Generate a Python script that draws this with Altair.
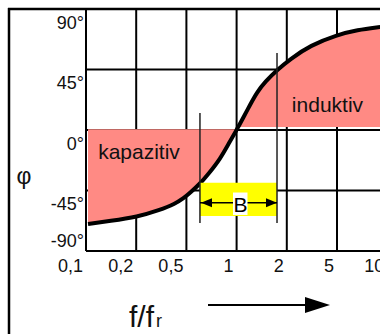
import altair as alt
import pandas as pd

# frequency ratio f/fr on an evenly spaced 1-2-5 grid
ratio_pos = [0, 1, 2, 3, 4, 5, 6]
ratio_labels = ["0,1", "0,2", "0,5", "1", "2", "5", "10"]

# phase angle ticks in degrees
phase_ticks = [90, 45, 0, -45, -90]
phase_labels = ["90°", "45°", "0°", "-45°", "-90°"]

# phase response of the resonant circuit (grid position, degrees)
curve_pos = [0.04, 0.48, 1.02, 1.47, 1.77, 1.95, 2.07, 2.27, 2.43, 2.67, 2.87,
             3.0, 3.13, 3.27, 3.41, 3.57, 3.81, 4.07, 4.47, 5.0, 5.4, 5.86]
curve_phi = [-69.9, -67.7, -64.7, -59.5, -55.0, -50.6, -46.9, -40.0, -33.0, -21.8, -8.2,
             0.0, 8.9, 18.9, 28.3, 36.0, 44.8, 52.8, 63.0, 70.7, 74.4, 76.6]

# bandwidth B between the -45° / +45° points
band_lo = 2.27
band_hi = 3.805
band_tops = [12.6, 57.3]

X = alt.Scale(domain=[0, 6], range=[86, 387.2], nice=False, zero=False)
Y = alt.Scale(domain=[-90, 90], range=[251, 9], nice=False, zero=False)
FONT = "Liberation Sans"
PINK = "#FF8A84"
SMOOTH = "basis"


def xq(f):
    return alt.X(f, type="quantitative", scale=X, axis=None)


def yq(f):
    return alt.Y(f, type="quantitative", scale=Y, axis=None)


curve = pd.DataFrame({"pos": curve_pos, "phi": curve_phi})
cap = curve[curve.pos <= 3.0].assign(base=0.6)
ind = curve[curve.pos >= 3.0].assign(base=2.2)

grid_h = pd.DataFrame({"phi": phase_ticks, "a": ratio_pos[0], "b": ratio_pos[-1]})
grid_v = pd.DataFrame({"pos": ratio_pos, "lo": phase_ticks[-1], "hi": phase_ticks[0]})
ytab = pd.DataFrame({"phi": phase_ticks, "label": phase_labels, "pos": ratio_pos[0]})
xtab = pd.DataFrame({"pos": ratio_pos, "label": ratio_labels, "phi": phase_ticks[-1]})

vgrid = alt.Chart(grid_v).mark_rule(color="black", strokeWidth=2).encode(
    x=xq("pos"), y=yq("lo"), y2="hi")
hgrid = alt.Chart(grid_h).mark_rule(color="black", strokeWidth=2).encode(
    x=xq("a"), x2="b", y=yq("phi"))

area_cap = alt.Chart(cap).mark_area(color=PINK, opacity=1, interpolate=SMOOTH).encode(
    x=xq("pos"), y=yq("phi"), y2="base")
area_ind = alt.Chart(ind).mark_area(color=PINK, opacity=1, interpolate=SMOOTH).encode(
    x=xq("pos"), y=yq("phi"), y2="base")
line = alt.Chart(curve).mark_line(color="black", strokeWidth=4, interpolate=SMOOTH).encode(
    x=xq("pos"), y=yq("phi"))

zone_txt = alt.Chart(pd.DataFrame({
    "pos": [1.056, 4.81], "phi": [-21.8, 13.6], "t": ["kapazitiv", "induktiv"]
})).mark_text(font=FONT, fontSize=21, align="center", baseline="alphabetic", color="#111").encode(
    x=xq("pos"), y=yq("phi"), text="t:N")

band_box = alt.Chart(pd.DataFrame({"a": [band_lo], "b": [band_hi], "top": [-39.2], "bot": [-64.0]})) \
    .mark_rect(color="#FFFF00").encode(x=xq("a"), x2="b", y=yq("top"), y2="bot")
band_lines = alt.Chart(pd.DataFrame({"pos": [band_lo, band_hi], "top": band_tops, "bot": [-69.2, -69.2]})) \
    .mark_rule(color="#222", strokeWidth=1.5).encode(x=xq("pos"), y=yq("top"), y2="bot")
band_arrow = alt.Chart(pd.DataFrame({"a": [band_lo], "b": [band_hi], "phi": [-54.1]})) \
    .mark_rule(color="black", strokeWidth=1.6).encode(x=xq("a"), x2="b", y=yq("phi"))
head_r = alt.Chart(pd.DataFrame({"pos": [3.695], "phi": [-54.1]})).mark_point(
    shape="M-1,-0.8L1,0L-1,0.8Z", size=121, filled=True, color="black", opacity=1).encode(
    x=xq("pos"), y=yq("phi"))
head_l = alt.Chart(pd.DataFrame({"pos": [2.40], "phi": [-54.1]})).mark_point(
    shape="M1,-0.8L-1,0L1,0.8Z", size=121, filled=True, color="black", opacity=1).encode(
    x=xq("pos"), y=yq("phi"))
b_bg = alt.Chart(pd.DataFrame({"a": [2.928], "b": [3.217], "top": [-46.5], "bot": [-63.2]})) \
    .mark_rect(color="white").encode(x=xq("a"), x2="b", y=yq("top"), y2="bot")
b_txt = alt.Chart(pd.DataFrame({"pos": [3.08], "phi": [-61.2], "t": ["B"]})).mark_text(
    font=FONT, fontSize=21, align="center", baseline="alphabetic", color="black").encode(
    x=xq("pos"), y=yq("phi"), text="t:N")

ylab_hi = alt.Chart(ytab).transform_filter("datum.phi > -90").mark_text(
    font=FONT, fontSize=18, align="right", baseline="alphabetic", dx=-2, dy=19.8, color="#111").encode(
    x=xq("pos"), y=yq("phi"), text="label:N")
ylab_lo = alt.Chart(ytab).transform_filter("datum.phi == -90").mark_text(
    font=FONT, fontSize=18, align="right", baseline="alphabetic", dx=-2, dy=-4.5, color="#111").encode(
    x=xq("pos"), y=yq("phi"), text="label:N")
xlab = alt.Chart(xtab).mark_text(
    font=FONT, fontSize=18, align="right", baseline="alphabetic", dx=-3, dy=20.7, color="#111").encode(
    x=xq("pos"), y=yq("phi"), text="label:N")

# outer frame, axis titles and direction arrow
frame_top = alt.Chart(pd.DataFrame({"k": [0]})).mark_rule(color="black", strokeWidth=2.5).encode(
    x=alt.value(8), x2=alt.value(380), y=alt.value(9))
frame_left = alt.Chart(pd.DataFrame({"k": [0]})).mark_rule(color="black", strokeWidth=2.5).encode(
    x=alt.value(9), y=alt.value(8), y2=alt.value(334))
phi_title = alt.Chart(pd.DataFrame({"t": ["φ"]})).mark_text(
    font=FONT, fontSize=23, align="center", baseline="alphabetic", color="#111").encode(
    x=alt.value(24), y=alt.value(184), text="t:N")
f_title = alt.Chart(pd.DataFrame({"t": ["f/f"]})).mark_text(
    font=FONT, fontSize=30, align="left", baseline="alphabetic", color="#111").encode(
    x=alt.value(129), y=alt.value(327), text="t:N")
r_title = alt.Chart(pd.DataFrame({"t": ["r"]})).mark_text(
    font=FONT, fontSize=18, align="left", baseline="alphabetic", color="#111").encode(
    x=alt.value(156), y=alt.value(327), text="t:N")
arrow_line = alt.Chart(pd.DataFrame({"k": [0]})).mark_rule(color="black", strokeWidth=2).encode(
    x=alt.value(208), x2=alt.value(308), y=alt.value(305))
arrow_head = alt.Chart(pd.DataFrame({"k": [0]})).mark_point(
    shape="M-1,-0.64L1,0L-1,0.64Z", size=625, filled=True, color="black", opacity=1).encode(
    x=alt.value(317.5), y=alt.value(305))

chart = alt.layer(
    vgrid, hgrid, area_cap, area_ind, line, zone_txt,
    band_box, band_lines, band_arrow, head_r, head_l, b_bg, b_txt,
    ylab_hi, ylab_lo, xlab,
    frame_top, frame_left, phi_title, f_title, r_title, arrow_line, arrow_head,
).properties(
    width=380, height=334,
    autosize=alt.AutoSizeParams(type="none"),
    padding=0,
    background="white",
).configure_view(stroke=None)

chart.save("out.html", embed_options={"renderer": "svg", "actions": False})
